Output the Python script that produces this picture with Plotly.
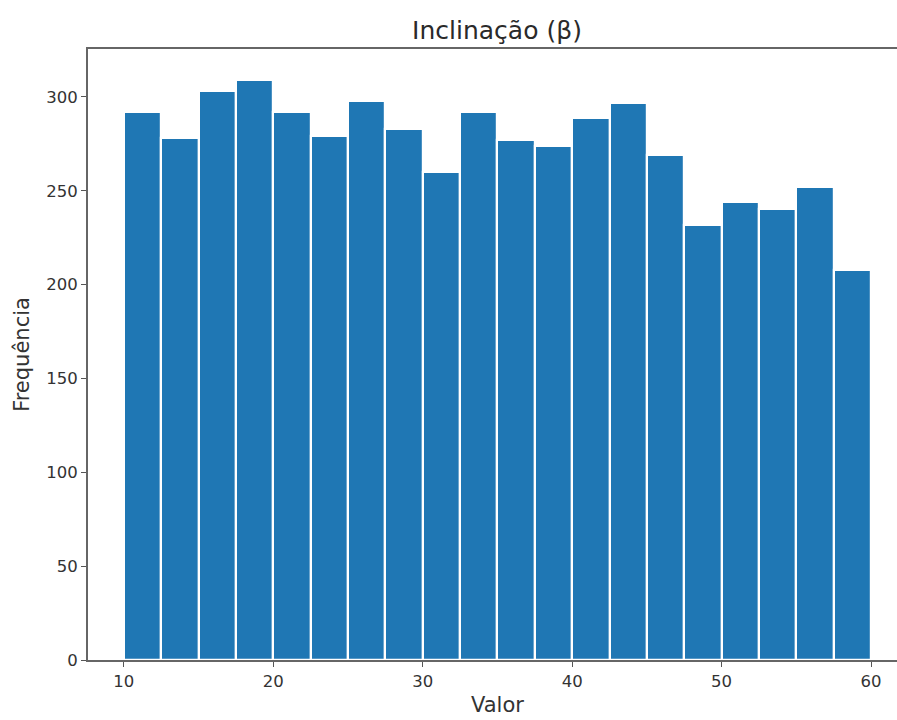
import plotly.graph_objects as go

bin_start = [10 + 2.5 * i for i in range(20)]
bin_width = 2.5
freq = [292, 278, 303, 309, 292, 279, 298, 283, 260, 292,
        277, 274, 289, 297, 269, 232, 244, 240, 252, 208]
x_ticks = [10, 20, 30, 40, 50, 60]
y_ticks = [0, 50, 100, 150, 200, 250, 300]

centers = [s + bin_width / 2 for s in bin_start]

fig = go.Figure()
fig.add_trace(go.Bar(
    x=centers, y=freq, width=[bin_width] * len(freq),
    marker=dict(color="#1f77b4", line=dict(color="white", width=2.2)),
))

font = "DejaVu Sans"
W, H = 897, 720
T, B, L = 49, 60, 88
plot_h = H - T - B
plot_w = W - L
fig.update_layout(
    width=W, height=H,
    margin=dict(l=L, r=0, t=T, b=B),
    paper_bgcolor="white", plot_bgcolor="white",
    showlegend=False, bargap=0,
    font=dict(family=font, color="#333333"),
    title=dict(text="Inclinação (β)", xref="paper", x=(497 - L) / plot_w, xanchor="center",
               y=1 - 39 / H, yanchor="bottom",
               font=dict(size=25, family=font, color="#2a2a2a")),
    xaxis=dict(range=[7.6, 61.74], tickvals=x_ticks, ticks="outside", ticklen=5,
               tickcolor="#555555", showline=True, linecolor="#666666", linewidth=1.8,
               mirror=True, showgrid=False, zeroline=False,
               tickfont=dict(size=16.5, color="#333333")),
    yaxis=dict(range=[0, 325.5], tickvals=y_ticks, ticks="outside", ticklen=5,
               tickcolor="#555555", showline=True, linecolor="#666666", linewidth=1.8,
               showgrid=False, zeroline=False,
               tickfont=dict(size=16.5, color="#333333"),
               title=dict(text="Frequência", font=dict(size=21, color="#333333"), standoff=11)),
    annotations=[dict(text="Valor", xref="paper", yref="paper", x=(497 - L) / plot_w,
                      y=-(705 - (H - B)) / plot_h, xanchor="center", yanchor="middle",
                      showarrow=False, font=dict(size=21, color="#333333"))],
)

fig.write_html(
    "out.html",
    config={"displayModeBar": False},
    post_script="document.body.style.margin='0';document.body.style.padding='0';"
                "document.documentElement.style.overflow='hidden';",
)
